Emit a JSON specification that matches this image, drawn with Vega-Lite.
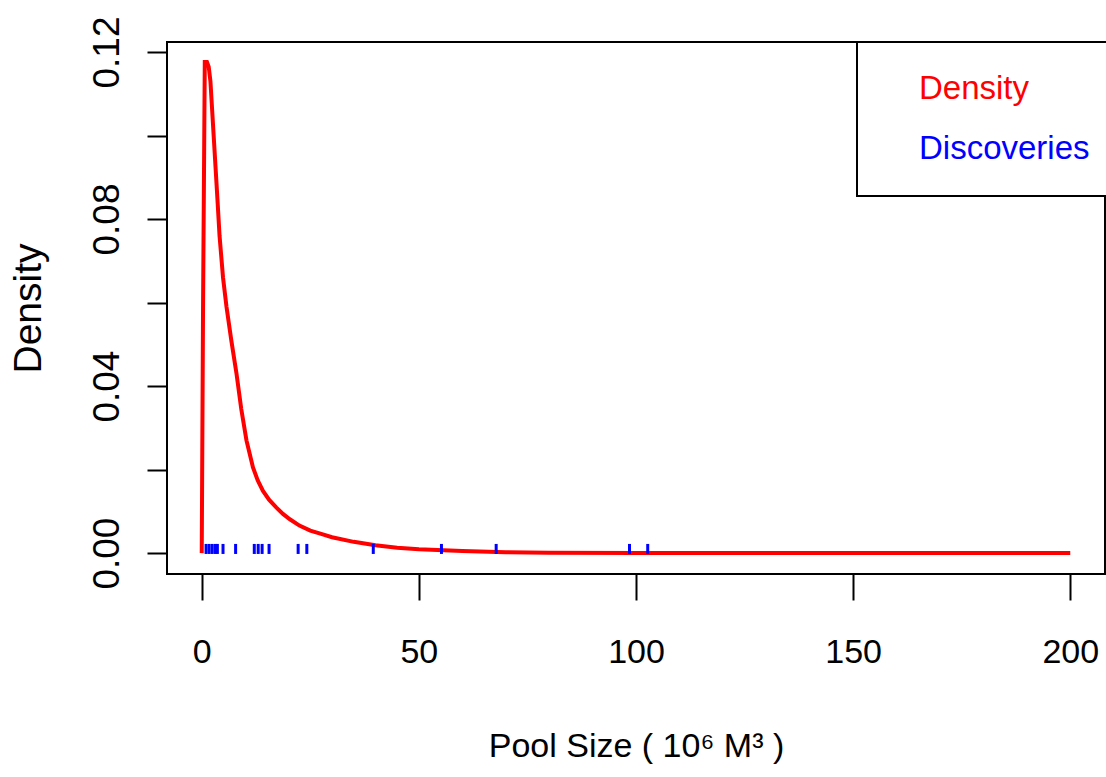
{
  "$schema": "https://vega.github.io/schema/vega-lite/v6.json",
  "width": 938,
  "height": 532,
  "autosize": {"type": "none"},
  "padding": {"left": 167, "top": 42, "right": 1, "bottom": 203},
  "background": "white",
  "config": {
    "view": {"stroke": "black", "strokeWidth": 2},
    "font": "Liberation Sans",
    "legend": {"strokeWidth": 2}
  },
  "datasets": {
    "density": [
      {"x": 0, "d": 0},
      {"x": 0.3, "d": 0.059},
      {"x": 0.7, "d": 0.1176},
      {"x": 1.2, "d": 0.1176},
      {"x": 1.6, "d": 0.1165},
      {"x": 2.0, "d": 0.113},
      {"x": 2.4, "d": 0.106},
      {"x": 2.8, "d": 0.099},
      {"x": 3.2, "d": 0.092},
      {"x": 3.6, "d": 0.085},
      {"x": 4.1, "d": 0.076},
      {"x": 4.9, "d": 0.066},
      {"x": 5.7, "d": 0.059},
      {"x": 6.8, "d": 0.051},
      {"x": 8.0, "d": 0.043},
      {"x": 9.1, "d": 0.0345},
      {"x": 10.3, "d": 0.027},
      {"x": 11.8, "d": 0.0205},
      {"x": 12.9, "d": 0.0174},
      {"x": 14.1, "d": 0.0149},
      {"x": 15.5, "d": 0.0128},
      {"x": 17.2, "d": 0.0109},
      {"x": 18.7, "d": 0.0094},
      {"x": 20.3, "d": 0.0081},
      {"x": 22.5, "d": 0.0066},
      {"x": 25, "d": 0.0054},
      {"x": 27.5, "d": 0.0046},
      {"x": 30, "d": 0.0038},
      {"x": 35, "d": 0.0027},
      {"x": 40, "d": 0.0019},
      {"x": 45, "d": 0.0013},
      {"x": 50, "d": 0.0009},
      {"x": 60, "d": 0.0005},
      {"x": 70, "d": 0.0002},
      {"x": 80, "d": 0.0001},
      {"x": 100, "d": 0.00005},
      {"x": 150, "d": 0.00001},
      {"x": 200, "d": 0}
    ],
    "rug": [
      {"pool": 1.0}, {"pool": 1.7}, {"pool": 2.4}, {"pool": 3.1}, {"pool": 3.6},
      {"pool": 4.9}, {"pool": 7.8}, {"pool": 12.1}, {"pool": 13.0}, {"pool": 13.9},
      {"pool": 15.5}, {"pool": 22.2}, {"pool": 24.2}, {"pool": 39.5}, {"pool": 55.2},
      {"pool": 67.8}, {"pool": 98.5}, {"pool": 102.7}
    ]
  },
  "layer": [
    {
      "data": {"name": "density"},
      "mark": {"type": "line", "strokeWidth": 4, "clip": true},
      "encoding": {
        "x": {
          "field": "x", "type": "quantitative",
          "scale": {"domain": [-8, 208], "nice": false, "zero": false},
          "axis": {
            "values": [0, 50, 100, 150, 200], "format": "d",
            "domain": false, "grid": false,
            "tickSize": 26, "tickWidth": 2, "tickColor": "black",
            "labelFont": "Liberation Sans", "labelFontSize": 34, "labelColor": "black",
            "labelPadding": 35, "labelFlush": false, "labelOverlap": false,
            "title": "Pool Size ( 10⁶ M³ )",
            "titleFont": "Liberation Sans", "titleFontSize": 34,
            "titleFontWeight": "normal", "titleColor": "black", "titlePadding": 60
          }
        },
        "y": {
          "field": "d", "type": "quantitative",
          "scale": {"domain": [-0.005, 0.1224], "nice": false, "zero": false},
          "axis": {
            "values": [0, 0.02, 0.04, 0.06, 0.08, 0.1, 0.12],
            "format": ".2f",
            "labelExpr": "round(datum.value * 100) % 4 == 0 ? datum.label : ''",
            "domain": false, "grid": false,
            "tickSize": 20, "tickWidth": 2, "tickColor": "black",
            "labelAngle": 270, "labelAlign": "center", "labelBaseline": "bottom",
            "labelFont": "Liberation Sans", "labelFontSize": 37, "labelColor": "black",
            "labelPadding": 21, "labelFlush": false, "labelOverlap": false,
            "title": "Density", "titleFont": "Liberation Sans", "titleFontSize": 39,
            "titleFontWeight": "normal", "titleColor": "black", "titlePadding": 40
          }
        },
        "color": {
          "datum": "Density", "type": "nominal",
          "scale": {"domain": ["Density", "Discoveries"], "range": ["#FF0000", "#0000FF"]},
          "legend": {
            "orient": "none", "legendX": 690, "legendY": 0, "title": null,
            "labelFont": "Liberation Sans", "labelFontSize": 33, "labelLimit": 400,
            "labelColor": {"expr": "datum.label == 'Density' ? '#FF0000' : '#0000FF'"},
            "symbolType": "square", "symbolOpacity": 0, "symbolStrokeWidth": 0,
            "symbolSize": 3600, "labelOffset": -15,
            "rowPadding": 0, "padding": 17,
            "strokeColor": "black", "fillColor": "white"
          }
        }
      }
    },
    {
      "data": {"name": "rug"},
      "mark": {"type": "rule", "strokeWidth": 3},
      "encoding": {
        "x": {"field": "pool", "type": "quantitative"},
        "y": {"datum": -0.0002, "type": "quantitative"},
        "y2": {"datum": 0.0022},
        "color": {"datum": "Discoveries", "type": "nominal"}
      }
    }
  ]
}
